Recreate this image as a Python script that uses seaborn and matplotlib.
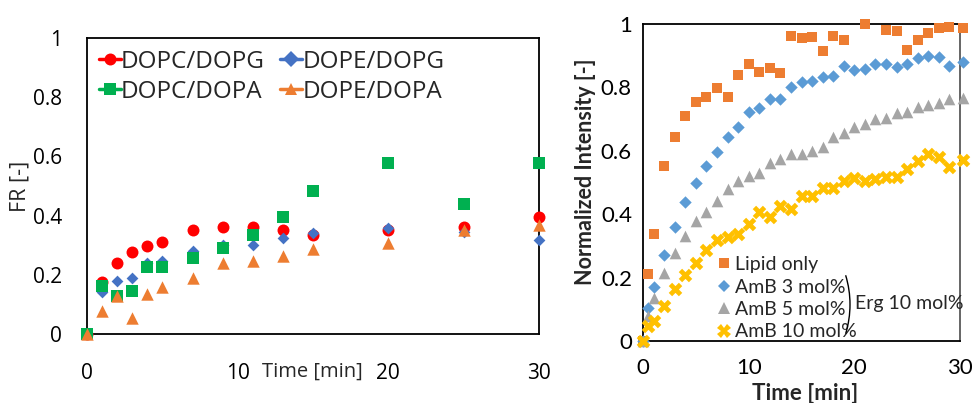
import numpy as np
import pandas as pd
import matplotlib
matplotlib.use("Agg")
import matplotlib.pyplot as plt
import seaborn as sns
from matplotlib.lines import Line2D
from matplotlib.patches import Arc

# ---- left panel data (FR vs time) ----
left_time = [0, 1, 2, 3, 4, 5, 7, 9, 11, 13, 15, 20, 25, 30]
dopc_dopg = [0, 0.177, 0.24, 0.278, 0.297, 0.31, 0.35, 0.36, 0.36, 0.35, 0.335, 0.35, 0.36, 0.395]
dope_dopg = [0, 0.143, 0.18, 0.19, 0.24, 0.245, 0.28, 0.30, 0.30, 0.325, 0.34, 0.357, 0.345, 0.318]
dopc_dopa = [0, 0.163, 0.128, 0.145, 0.227, 0.227, 0.258, 0.29, 0.335, 0.395, 0.483, 0.578, 0.438, 0.578]
dope_dopa = [0, 0.078, 0.128, 0.053, 0.135, 0.16, 0.19, 0.24, 0.247, 0.263, 0.287, 0.308, 0.352, 0.367]
left_labels = ["DOPC/DOPG", "DOPE/DOPG", "DOPC/DOPA", "DOPE/DOPA"]

# ---- right panel data (normalized intensity vs time) ----
right_time = [0, 0.5, 1, 2, 3, 4, 5, 6, 7, 8, 9, 10, 11, 12, 13, 14, 15, 16, 17, 18,
              19, 20, 21, 22, 23, 24, 25, 26, 27, 28, 29, 30.3]
lipid_only = [0, 0.21, 0.338, 0.553, 0.645, 0.71, 0.755, 0.771, 0.797, 0.771, 0.839, 0.873,
              0.85, 0.862, 0.846, 0.962, 0.955, 0.96, 0.916, 0.963, 0.95, np.nan, 0.999, np.nan,
              0.981, 0.979, 0.918, 0.95, 0.971, 0.986, 0.992, 0.988]
amb_3 = [0, 0.104, 0.171, 0.271, 0.361, 0.437, 0.497, 0.553, 0.597, 0.645, 0.676, 0.721,
         0.734, 0.762, 0.763, 0.802, 0.818, 0.82, 0.832, 0.836, 0.869, 0.855, 0.857, 0.874,
         0.874, 0.865, 0.873, 0.894, 0.899, 0.897, 0.868, 0.881]
amb_5 = [0, 0.08, 0.137, 0.213, 0.277, 0.332, 0.38, 0.408, 0.442, 0.478, 0.505, 0.522,
         0.531, 0.563, 0.574, 0.59, 0.59, 0.6, 0.613, 0.643, 0.657, 0.676, 0.685, 0.7,
         0.704, 0.72, 0.723, 0.737, 0.745, 0.75, 0.762, 0.768]
amb_10 = [0, 0.048, 0.063, 0.11, 0.164, 0.208, 0.247, 0.287, 0.319, 0.327, 0.338, 0.369,
          0.408, 0.392, 0.426, 0.418, 0.457, 0.457, 0.484, 0.484, 0.505, 0.513, 0.506, 0.51,
          0.518, 0.517, 0.542, 0.568, 0.591, 0.579, 0.55, 0.571]
right_labels = ["Lipid only", "AmB 3 mol%", "AmB 5 mol%", "AmB 10 mol%"]

sns.set_style("white")
plt.rcParams["font.family"] = ["Open Sans", "DejaVu Sans"]
LATO = ["Lato", "DejaVu Sans"]

fig = plt.figure(figsize=(9.79, 4.03), dpi=100)
ax1 = fig.add_axes([0.0889, 0.1712, 0.4617, 0.7345])
ax2 = fig.add_axes([0.6568, 0.1538, 0.3238, 0.7866])

# ---- left panel ----
left_df = pd.DataFrame({"time": left_time, "DOPC/DOPG": dopc_dopg, "DOPE/DOPG": dope_dopg,
                        "DOPC/DOPA": dopc_dopa, "DOPE/DOPA": dope_dopa})
left_style = {
    "DOPC/DOPG": ("#FF0000", "o", 74),
    "DOPE/DOPG": ("#4472C4", "D", 36),
    "DOPC/DOPA": ("#00B050", "s", 64),
    "DOPE/DOPA": ("#ED7D31", "^", 80),
}
for name in left_labels:
    col, mk, sz = left_style[name]
    sns.scatterplot(data=left_df, x="time", y=name, ax=ax1, color=col, marker=mk, s=sz,
                    linewidth=0, clip_on=False, zorder=3)

ax1.set_xlim(0, 30)
ax1.set_ylim(0, 1)
ax1.set_xticks([0, 10, 20, 30])
ax1.set_yticks([0, 0.2, 0.4, 0.6, 0.8, 1.0])
ax1.set_yticklabels(["0", "0.2", "0.4", "0.6", "0.8", "1"])
ax1.tick_params(axis="x", direction="in", length=5, width=1.2, pad=21, labelsize=15)
ax1.tick_params(axis="y", direction="out", length=5, width=1.2, pad=13, labelsize=15)
ax1.tick_params(axis="both", colors="black")
for sp in ax1.spines.values():
    sp.set_visible(True)
    sp.set_color("black")
    sp.set_linewidth(1.3)
ax1.set_xlabel("Time [min]", fontsize=14.5)
ax1.xaxis.set_label_coords(0.498, -0.128)
ax1.xaxis.label.set_va("center")
ax1.set_ylabel("FR [-]", fontsize=15.5)
ax1.yaxis.set_label_coords(-0.148, 0.5)
ax1.yaxis.label.set_va("center")

# legend is filled column by column, so order the handles that way
legend_order = ["DOPC/DOPG", "DOPC/DOPA", "DOPE/DOPG", "DOPE/DOPA"]
left_handles = [Line2D([0], [0], color=left_style[n][0], marker=left_style[n][1],
                       markersize=np.sqrt(left_style[n][2]) * (1.4 if left_style[n][1] == "D" else 1.0),
                       lw=2.5, markeredgewidth=0) for n in legend_order]
ax1.legend(left_handles, legend_order, ncol=2, frameon=False, loc="upper left",
           bbox_to_anchor=(-0.006, 1.01), fontsize=17.5, handlelength=0.9,
           handletextpad=0.0, columnspacing=0.65, labelspacing=0.25, borderaxespad=0.2)

# ---- right panel ----
right_df = pd.DataFrame({"time": right_time, "Lipid only": lipid_only, "AmB 3 mol%": amb_3,
                         "AmB 5 mol%": amb_5, "AmB 10 mol%": amb_10})
right_style = {
    "Lipid only": ("#ED7D31", "s", 52),
    "AmB 3 mol%": ("#5B9BD5", "D", 40),
    "AmB 5 mol%": ("#A5A5A5", "^", 70),
    "AmB 10 mol%": ("#FFC000", "X", 95),
}
for name in right_labels:
    col, mk, sz = right_style[name]
    sns.scatterplot(data=right_df, x="time", y=name, ax=ax2, color=col, marker=mk, s=sz,
                    linewidth=0, clip_on=False, zorder=3)

ax2.set_xlim(0, 30)
ax2.set_ylim(0, 1)
ax2.set_xticks([0, 10, 20, 30])
ax2.set_yticks([0, 0.2, 0.4, 0.6, 0.8, 1.0])
ax2.set_yticklabels(["0", "0.2", "0.4", "0.6", "0.8", "1"])
for lab in ax2.get_xticklabels() + ax2.get_yticklabels():
    lab.set_fontfamily(LATO)
ax2.tick_params(axis="both", length=0, labelsize=16, colors="black")
ax2.tick_params(axis="x", pad=12)
ax2.tick_params(axis="y", pad=8)
for sp in ax2.spines.values():
    sp.set_visible(True)
    sp.set_color("black")
    sp.set_linewidth(1.3)
ax2.spines["right"].set_color("#595959")
ax2.set_xlabel("Time [min]", fontsize=16, fontweight="bold", family=LATO)
ax2.xaxis.set_label_coords(0.51, -0.164)
ax2.xaxis.label.set_va("center")
ax2.set_ylabel("Normalized Intensity [-]", fontsize=15.5, fontweight="bold", family=LATO)
ax2.yaxis.set_label_coords(-0.18, 0.535)
ax2.yaxis.label.set_va("center")

right_handles = [Line2D([0], [0], color=right_style[n][0], marker=right_style[n][1],
                        markersize=np.sqrt(right_style[n][2]), lw=0, markeredgewidth=0)
                 for n in right_labels]
ax2.legend(right_handles, right_labels, frameon=False, loc="lower left",
           bbox_to_anchor=(0.2, -0.035), prop={"family": LATO, "size": 14},
           handlelength=0.6, handletextpad=0.25, labelspacing=0.28, borderaxespad=0.2)

# bracket grouping the AmB entries
fig.add_artist(Arc((7.50, 0.985), 2.0, 2.0, theta1=-17, theta2=17,
                   transform=fig.dpi_scale_trans, color="black", lw=1.0))
fig.text(8.55 / 9.79, 0.99 / 4.03, "Erg 10 mol%", fontsize=14, family=LATO,
         va="center", ha="left")

fig.savefig("out.png", dpi=100)
